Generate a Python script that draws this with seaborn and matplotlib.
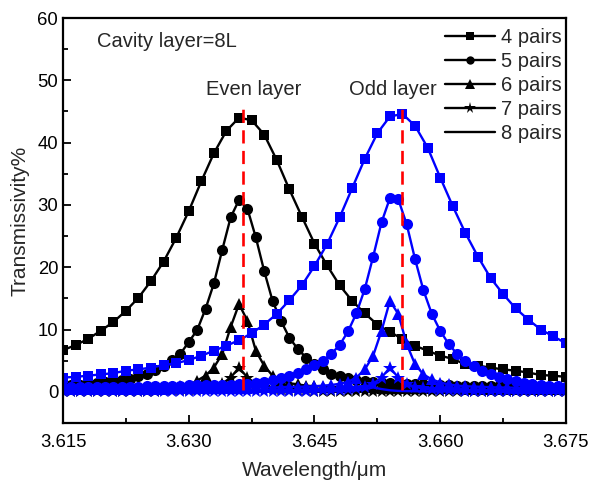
import numpy as np
import pandas as pd
import matplotlib
matplotlib.use("Agg")
import matplotlib.pyplot as plt
from matplotlib.ticker import MultipleLocator, FormatStrFormatter
import seaborn as sns

sns.set_style("ticks")
plt.rcParams['font.family'] = ['Liberation Sans', 'DejaVu Sans']

# ---------------- data ----------------
# wavelength grids (um)
wl_coarse = np.linspace(3.615, 3.675, 41)   # 4-pair curves
wl_fine = np.linspace(3.615, 3.675, 61)     # 5-8 pair curves

even_4 = [6.7, 7.5, 8.5, 9.8, 11.2, 13.0, 15.1, 17.8, 20.9, 24.7,
          29.0, 33.8, 38.3, 41.9, 44.0, 43.6, 41.3, 37.2, 32.5, 28.1,
          23.8, 20.3, 17.1, 14.6, 12.6, 10.8, 9.6, 8.5, 7.4, 6.6,
          5.8, 5.3, 4.4, 4.2, 3.9, 3.6, 3.4, 3.1, 2.7, 2.6, 2.4]
odd_4 = [2.3, 2.4, 2.6, 2.8, 3.0, 3.4, 3.6, 3.9, 4.3, 4.6,
         5.1, 5.8, 6.6, 7.4, 8.3, 9.4, 10.8, 12.5, 14.7, 17.1,
         20.2, 23.7, 28.0, 32.7, 37.4, 41.5, 44.2, 44.6, 42.7, 39.2,
         34.4, 29.8, 25.5, 21.7, 18.3, 15.7, 13.4, 11.6, 10.0, 8.9, 7.8]

even_5 = [0.9, 1.1, 1.1, 1.3, 1.4, 1.6, 1.7, 1.9, 2.1, 2.5, 2.9, 3.5, 4.2, 5.1, 6.1,
          8.0, 9.9, 13.3, 17.4, 22.8, 28.0, 30.8, 29.4, 24.8, 19.4, 14.6, 11.4, 8.7, 6.9, 5.5,
          4.4, 3.6, 2.9, 2.6, 2.2, 1.9, 1.8, 1.6, 1.5, 1.4, 1.3, 1.3, 1.2, 1.2, 1.1,
          1.1, 1.1, 1.0, 1.0, 1.0, 1.0, 0.9, 0.9, 0.9, 0.9, 0.9, 0.8, 0.8, 0.8, 0.8, 0.8]
odd_5 = [0.7, 0.7, 0.7, 0.75, 0.75, 0.8, 0.8, 0.8, 0.85, 0.85, 0.9, 0.9, 0.95, 1.0, 1.0,
         1.05, 1.05, 1.1, 1.1, 1.15, 1.15, 1.2, 1.25, 1.4, 1.6, 1.9, 2.2, 2.6, 3.1, 3.6,
         4.3, 5.0, 6.1, 7.5, 9.7, 12.6, 16.5, 21.7, 27.2, 31.1, 30.9, 26.9, 21.3, 16.3, 12.5,
         9.8, 7.7, 6.1, 4.9, 4.1, 3.4, 2.8, 2.4, 2.0, 1.8, 1.5, 1.3, 1.1, 1.0, 0.9, 0.7]

even_6 = [0.5, 0.5, 0.55, 0.55, 0.6, 0.6, 0.6, 0.65, 0.65, 0.7, 0.7, 0.75, 0.8, 0.85, 0.9,
          1.0, 1.8, 2.6, 3.9, 6.1, 10.4, 14.1, 11.4, 6.6, 4.2, 2.6, 1.9, 1.4, 1.2, 1.0,
          0.9, 0.85, 0.8, 0.8, 0.75, 0.7, 0.7, 0.7, 0.65, 0.65, 0.6, 0.6, 0.6, 0.6, 0.55,
          0.55, 0.55, 0.55, 0.5, 0.5, 0.5, 0.5, 0.5, 0.5, 0.5, 0.45, 0.45, 0.45, 0.45, 0.45, 0.45]
odd_6 = [0.45, 0.45, 0.45, 0.45, 0.45, 0.45, 0.5, 0.5, 0.5, 0.5, 0.5, 0.5, 0.5, 0.55, 0.55,
         0.55, 0.55, 0.6, 0.6, 0.6, 0.6, 0.65, 0.65, 0.7, 0.7, 0.7, 0.75, 0.8, 0.8, 0.85,
         0.9, 1.0, 1.1, 1.3, 1.6, 2.3, 3.6, 5.8, 9.8, 14.6, 12.5, 7.7, 4.4, 2.8, 2.0,
         1.5, 1.2, 1.0, 0.9, 0.85, 0.8, 0.75, 0.7, 0.7, 0.65, 0.65, 0.6, 0.6, 0.6, 0.55, 0.55]

even_7 = [0.1, 0.1, 0.1, 0.1, 0.1, 0.12, 0.12, 0.13, 0.14, 0.15, 0.17, 0.19, 0.22, 0.26, 0.3,
          0.35, 0.4, 0.55, 0.8, 1.3, 2.3, 3.9, 2.3, 1.3, 0.8, 0.55, 0.4, 0.33, 0.28, 0.24,
          0.21, 0.19, 0.17, 0.15, 0.14, 0.13, 0.12, 0.12, 0.11, 0.1, 0.1, 0.1, 0.1, 0.09, 0.09,
          0.09, 0.09, 0.09, 0.09, 0.09, 0.09, 0.09, 0.09, 0.09, 0.09, 0.09, 0.09, 0.09, 0.09, 0.09, 0.09]
odd_7 = [0.08, 0.08, 0.08, 0.08, 0.08, 0.08, 0.08, 0.08, 0.08, 0.08, 0.08, 0.08, 0.08, 0.08, 0.08,
         0.09, 0.09, 0.1, 0.1, 0.1, 0.11, 0.11, 0.12, 0.12, 0.13, 0.14, 0.15, 0.17, 0.19, 0.2,
         0.21, 0.24, 0.28, 0.33, 0.4, 0.55, 0.8, 1.3, 2.3, 3.9, 2.3, 1.3, 0.8, 0.55, 0.4,
         0.33, 0.28, 0.24, 0.21, 0.19, 0.17, 0.15, 0.14, 0.13, 0.12, 0.12, 0.11, 0.1, 0.1, 0.1, 0.1]

even_8 = [0.03, 0.03, 0.03, 0.03, 0.03, 0.03, 0.03, 0.03, 0.04, 0.04, 0.04, 0.05, 0.05, 0.06, 0.07,
          0.08, 0.1, 0.12, 0.15, 0.25, 0.45, 0.7, 0.45, 0.25, 0.15, 0.12, 0.1, 0.08, 0.07, 0.06,
          0.05, 0.05, 0.04, 0.04, 0.04, 0.03, 0.03, 0.03, 0.03, 0.03, 0.03, 0.03, 0.03, 0.03, 0.03,
          0.03, 0.03, 0.03, 0.03, 0.03, 0.03, 0.03, 0.03, 0.03, 0.03, 0.03, 0.03, 0.03, 0.03, 0.03, 0.03]
odd_8 = [0.02, 0.02, 0.02, 0.02, 0.02, 0.02, 0.02, 0.02, 0.02, 0.02, 0.02, 0.02, 0.02, 0.02, 0.02,
         0.02, 0.02, 0.03, 0.03, 0.03, 0.03, 0.03, 0.03, 0.03, 0.04, 0.04, 0.04, 0.05, 0.05, 0.06,
         0.07, 0.08, 0.1, 0.12, 0.15, 0.25, 0.45, 0.7, 0.45, 0.25, 0.15, 0.12, 0.1, 0.08, 0.07,
         0.06, 0.05, 0.05, 0.04, 0.04, 0.04, 0.03, 0.03, 0.03, 0.03, 0.03, 0.03, 0.03, 0.03, 0.03, 0.03]

pair_labels = ["4 pairs", "5 pairs", "6 pairs", "7 pairs", "8 pairs"]
even_series = [even_4, even_5, even_6, even_7, even_8]
odd_series = [odd_4, odd_5, odd_6, odd_7, odd_8]
grids = [wl_coarse, wl_fine, wl_fine, wl_fine, wl_fine]
markers = ["s", "o", "^", "*", None]
msizes = [7.5, 8, 8.5, 10, 0]
legend_msizes = [6, 6, 6.5, 8.5, 0]

peak_even = 3.6365
peak_odd = 3.6555
ref_line_range = (0.3, 46.5)

# ---------------- plot ----------------
fig = plt.figure(figsize=(5.91, 4.84), dpi=100)
ax = fig.add_axes([0.1066, 0.126, 0.851, 0.8368])

for lab, ys, xs, mk, ms in zip(pair_labels, even_series, grids, markers, msizes):
    kw = dict(marker=mk, markersize=ms, markeredgewidth=0) if mk else {}
    sns.lineplot(x=xs, y=ys, color="black", linewidth=1.7, label=lab, ax=ax, **kw)

for lab, ys, xs, mk, ms in zip(pair_labels, odd_series, grids, markers, msizes):
    kw = dict(marker=mk, markersize=ms, markeredgewidth=0) if mk else {}
    sns.lineplot(x=xs, y=ys, color="#0000ff", linewidth=1.7, ax=ax, legend=False, **kw)

for px in (peak_even, peak_odd):
    ax.vlines(px, ref_line_range[0], ref_line_range[1], colors="#ff0000",
              linestyles=(0, (5, 2.8)), linewidth=1.9, zorder=5)

ax.set_xlim(3.615, 3.675)
ax.set_ylim(-5, 60)
ax.xaxis.set_major_locator(MultipleLocator(0.015))
ax.xaxis.set_minor_locator(MultipleLocator(0.0075))
ax.xaxis.set_major_formatter(FormatStrFormatter('%.3f'))
ax.yaxis.set_major_locator(MultipleLocator(10))
ax.yaxis.set_minor_locator(MultipleLocator(5))
ax.tick_params(which="both", direction="in", width=1.3, labelsize=13.3, colors="black")
ax.tick_params(which="major", length=6)
ax.tick_params(which="minor", length=3.5)
ax.tick_params(axis="x", pad=8)
for sp in ax.spines.values():
    sp.set_visible(True)
    sp.set_linewidth(1.6)
    sp.set_color("black")

ax.set_xlabel("Wavelength/μm", fontsize=15, labelpad=7)
ax.set_ylabel("Transmissivity%", fontsize=15, labelpad=6)

ax.text(3.6191, 56.3, "Cavity layer=8L", fontsize=14.5, ha="left", va="center")
ax.text(3.6377, 48.6, "Even layer", fontsize=14.5, ha="center", va="center")
ax.text(3.6544, 48.6, "Odd layer", fontsize=14.5, ha="center", va="center")

leg = ax.legend(loc="upper right", bbox_to_anchor=(1.0, 0.985), frameon=False,
                fontsize=14.5, handlelength=2.5, labelspacing=0.25,
                handletextpad=0.3, borderaxespad=0.05, borderpad=0.15)
for h, ms in zip(leg.legend_handles, legend_msizes):
    h.set_markersize(ms)

fig.savefig("out.png", dpi=100)
